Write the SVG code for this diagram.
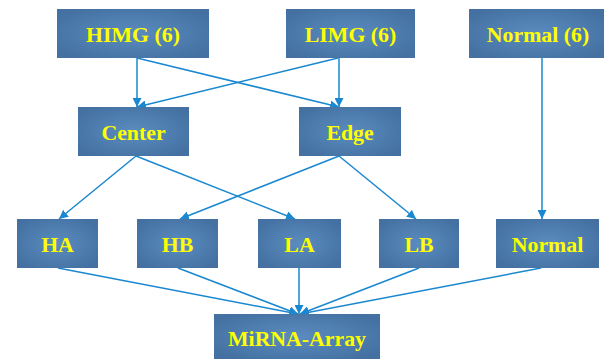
<svg xmlns="http://www.w3.org/2000/svg" width="606" height="359" viewBox="0 0 606 359">
<defs>
<radialGradient id="g" cx="0.5" cy="0.5" r="0.6">
<stop offset="0" stop-color="#5b8cbf"/>
<stop offset="1" stop-color="#4471a2"/>
</radialGradient>
<marker id="a" viewBox="0 0 10 10" refX="10" refY="5" markerWidth="9" markerHeight="9" markerUnits="userSpaceOnUse" orient="auto">
<path d="M0,0 L10,5 L0,10 z" fill="#1a88d0"/>
</marker>
<style>
.n rect{fill:url(#g);}
.n text{fill:#ffff00;font-family:"Liberation Serif","Times New Roman",serif;font-weight:bold;font-size:21.8px;text-anchor:middle;}
.c line{stroke:#1a88d0;stroke-width:1.5;marker-end:url(#a);}
</style>
</defs>
<rect width="606" height="359" fill="#ffffff"/>
<g class="c">
<line x1="137" y1="58" x2="137" y2="107"/>
<line x1="338" y1="58" x2="137" y2="107"/>
<line x1="137" y1="58" x2="339" y2="107"/>
<line x1="339" y1="58" x2="339" y2="107"/>
<line x1="542" y1="58" x2="542" y2="219"/>
<line x1="136" y1="156" x2="59" y2="219"/>
<line x1="136" y1="156" x2="295" y2="219"/>
<line x1="339" y1="156" x2="180" y2="219"/>
<line x1="339" y1="156" x2="416" y2="219"/>
<line x1="58" y1="268" x2="298" y2="314"/>
<line x1="178" y1="268" x2="298" y2="314"/>
<line x1="299" y1="268" x2="299" y2="314"/>
<line x1="419" y1="268" x2="300" y2="314"/>
<line x1="541" y1="268" x2="300" y2="314"/>
</g>
<g id="himg" class="n"><rect x="57" y="9" width="152" height="49"/><text x="133" y="42">HIMG (6)</text></g>
<g id="limg" class="n"><rect x="286" y="9" width="129" height="49"/><text x="350.5" y="42">LIMG (6)</text></g>
<g id="normal6" class="n"><rect x="469" y="9" width="135" height="49"/><text x="538" y="42">Normal (6)</text></g>
<g id="center" class="n"><rect x="78" y="107" width="111" height="49"/><text x="133.5" y="140">Center</text></g>
<g id="edge" class="n"><rect x="299" y="107" width="102" height="49"/><text x="350" y="140">Edge</text></g>
<g id="ha" class="n"><rect x="17" y="219" width="81" height="49"/><text x="57.5" y="252">HA</text></g>
<g id="hb" class="n"><rect x="137" y="219" width="81" height="49"/><text x="177.5" y="252">HB</text></g>
<g id="la" class="n"><rect x="258" y="219" width="83" height="49"/><text x="299.5" y="252">LA</text></g>
<g id="lb" class="n"><rect x="379" y="219" width="80" height="49"/><text x="419" y="252">LB</text></g>
<g id="normal" class="n"><rect x="496" y="219" width="103" height="49"/><text x="547.5" y="252">Normal</text></g>
<g id="mirna" class="n"><rect x="214" y="314" width="166" height="45"/><text x="297" y="346">MiRNA-Array</text></g>
</svg>
